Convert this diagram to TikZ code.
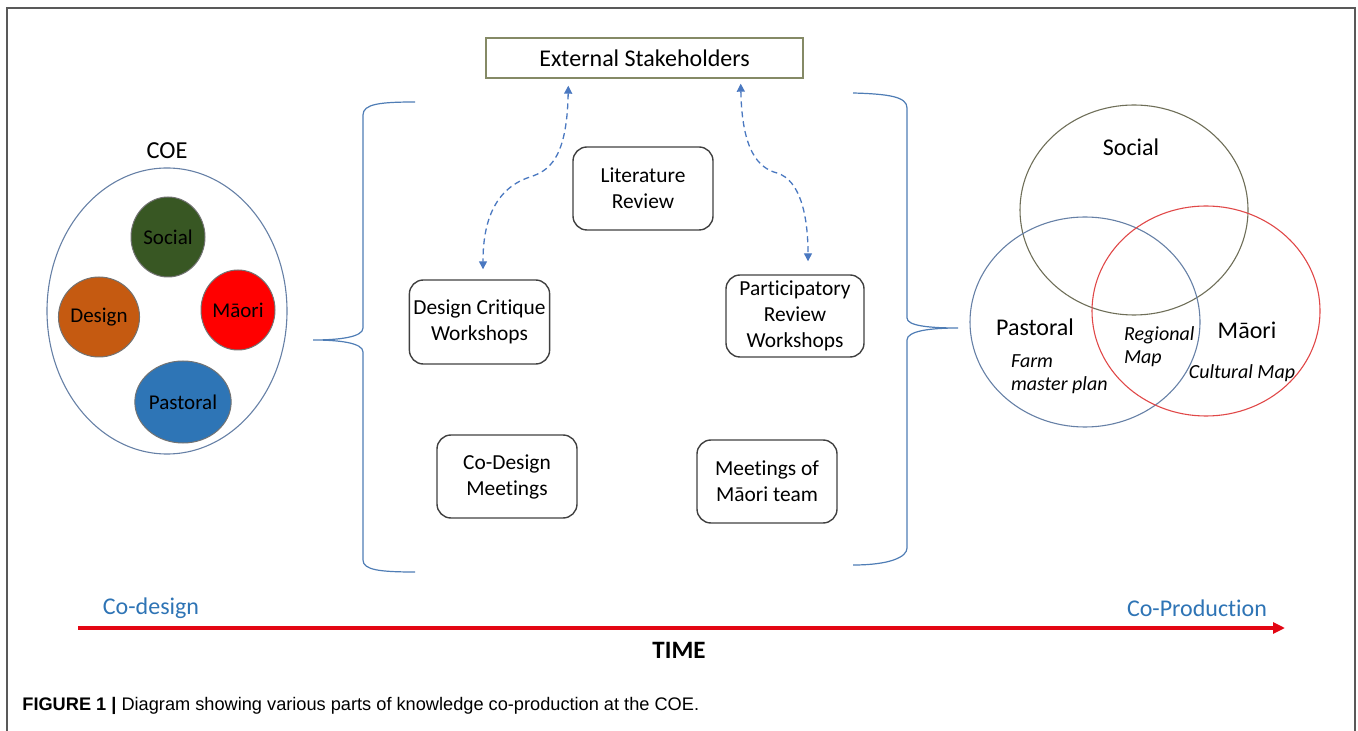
\documentclass[tikz,border=0pt]{standalone}
\usepackage{fontspec}
\setmainfont{Carlito}[Ligatures=NoCommon]
\newfontfamily\capfont{Liberation Sans}
\usetikzlibrary{arrows.meta,shapes.geometric}

\definecolor{braceblue}{HTML}{4F7DB5}
\definecolor{dashblue}{HTML}{4A78C0}
\definecolor{textblue}{HTML}{2E74B5}
\definecolor{olivegray}{HTML}{858A66}
\definecolor{socialgreen}{HTML}{385723}
\definecolor{designorange}{HTML}{C55A11}
\definecolor{pastoralblue}{HTML}{2E75B6}
\definecolor{venngray}{HTML}{6E6E58}
\definecolor{vennblue}{HTML}{6680A6}
\definecolor{vennred}{HTML}{E04848}
\definecolor{timered}{HTML}{E30613}

\begin{document}
\begin{tikzpicture}[x=0.5pt,y=-0.5pt,
    stage/.style={draw=black!75, line width=0.7pt, rounded corners=7pt, align=center,
        minimum width=70pt, minimum height=41.5pt, inner sep=2pt,
        font=\fontsize{10.7}{13}\selectfont},
    part/.style={ellipse, draw=black!55, line width=0.5pt, minimum width=37pt,
        minimum height=40pt, inner sep=0pt, font=\fontsize{10.5}{12}\selectfont},
    vennlabel/.style={font=\fontsize{12}{14}\selectfont},
    vennnote/.style={font=\fontsize{10}{11.5}\selectfont\itshape, align=left},
    link/.style={draw=dashblue, line width=0.65pt, dash pattern=on 3pt off 2pt,
        {Triangle[width=4pt,length=4pt]}-{Triangle[width=4pt,length=4pt]}},
    brace/.style={draw=braceblue, line width=0.6pt},
    phase/.style={text=textblue, font=\fontsize{12}{14}\selectfont}]

    \useasboundingbox (0,0) rectangle (1358,731);
    \draw[black!65, line width=0.75pt] (7,735) -- (7,8) -- (1355,8) -- (1355,735);

    % centre of excellence
    \node[font=\fontsize{12.2}{14}\selectfont] (coe) at (167,151) {COE};
    \draw[draw=vennblue, line width=0.55pt] (167,311) ellipse [x radius=120, y radius=143];
    \node[part, fill=socialgreen] (social) at (168,237) {Social};
    \node[part, fill=designorange, minimum width=36pt] (design) at (99,317) {Design};
    \node[part, fill=red] (maori) at (238,310) {Māori};
    \node[part, fill=pastoralblue, minimum width=42.5pt, minimum height=41pt] (pastoral) at (183,402) {Pastoral};

    % braces
    \draw[brace] (415,102) .. controls (380,102) and (363,104) .. (363,115) -- (363,328)
        .. controls (363,337) and (340,340) .. (313,340)
        .. controls (340,340) and (363,343) .. (363,352) -- (363,560)
        .. controls (363,570) and (380,572) .. (415,572);
    \draw[brace] (853,93) .. controls (890,94) and (907,97) .. (907,108) -- (907,318)
        .. controls (907,326) and (930,328) .. (958,328)
        .. controls (930,328) and (907,331) .. (907,340) -- (907,548)
        .. controls (907,557) and (890,565) .. (853,565);

    % activities
    \node[draw=olivegray, line width=0.7pt, minimum width=158.5pt, minimum height=20pt,
        font=\fontsize{12}{14}\selectfont] (ext) at (644.5,58) {External Stakeholders};
    \node[stage] (litrev) at (643,188.5) {Literature\\Review};
    \node[stage, minimum width=68.5pt, minimum height=42pt] (critique) at (479.5,322) {Design Critique\\Workshops};
    \node[stage, minimum width=69pt, minimum height=41pt] (review) at (795,316) {Participatory\\Review\\Workshops};
    \node[stage] (codesign) at (507,476.5) {Co-Design\\Meetings};
    \node[stage] (meetings) at (767,481.5) {Meetings of\\Māori team};

    \draw[link] ([xshift=41.5pt,yshift=-3.5pt]ext.south west) .. controls (567,160) and (548,171) .. (530,177)
        .. controls (490,190) and (483,230) .. ([xshift=1.75pt,yshift=5pt]critique.north);
    \draw[link] ([xshift=-31.5pt,yshift=-2.5pt]ext.south east) .. controls (742,150) and (758,168) .. (777,173)
        .. controls (800,180) and (808,215) .. ([xshift=6.5pt,yshift=6.5pt]review.north);

    % outcomes
    \draw[draw=venngray, line width=0.55pt] (1134,210) ellipse [x radius=114, y radius=105];
    \draw[draw=vennblue, line width=0.55pt] (1085,322) ellipse [x radius=115, y radius=105];
    \draw[draw=vennred, line width=0.55pt] (1206,311) ellipse [x radius=114, y radius=105];
    \node[vennlabel] (vsocial) at (1131,147) {Social};
    \node[vennlabel] (vpastoral) at (1035,327) {Pastoral};
    \node[vennlabel] (vmaori) at (1247,330) {Māori};
    \node[vennnote, anchor=west] (farm) at (1004,374) {Farm\\master plan};
    \node[vennnote, anchor=west] (regional) at (1117,347) {Regional\\Map};
    \node[vennnote] (cultural) at (1242,373) {Cultural Map};

    % time line
    \coordinate (tstart) at (78,628);
    \coordinate (tend) at (1285,628);
    \draw[timered, line width=1.6pt, -{Triangle[width=5.5pt,length=6pt]}] (tstart) -- (tend);
    \node[phase] (early) at (151,608) {Co-design};
    \node[phase] (late) at (1197,608) {Co-Production};
    \node[font=\fontsize{12.5}{14}\selectfont\bfseries] (time) at (679,650) {TIME};

    \node[anchor=west, inner sep=0pt, font=\capfont\fontsize{9.1}{11}\selectfont] (caption) at (22,706)
        {\textbf{FIGURE 1 |} Diagram showing various parts of knowledge co-production at the COE.};
\end{tikzpicture}
\end{document}
